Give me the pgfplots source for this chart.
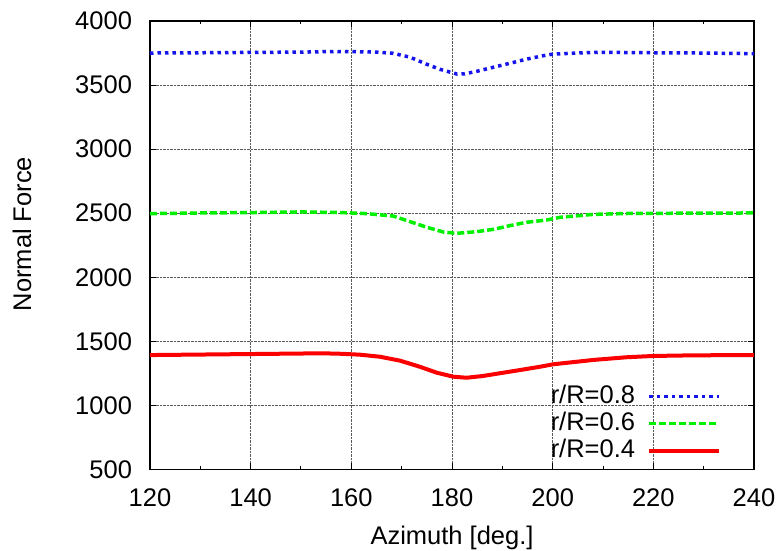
\documentclass[border=0pt]{standalone}
\usepackage{fontspec}
\setmainfont{Liberation Sans}
\usepackage{pgfplots}
\pgfplotsset{compat=1.18}
\definecolor{gblue}{RGB}{20,20,235}
\definecolor{ggreen}{RGB}{0,240,0}
\definecolor{gred}{RGB}{250,0,0}
\begin{document}
\begin{tikzpicture}
\useasboundingbox (-150pt,-81.5pt) rectangle (632pt,469.5pt);
\begin{axis}[
  at={(0,0)}, anchor=south west,
  scale only axis, width=604pt, height=448.5pt,
  xmin=120, xmax=240, ymin=500, ymax=4000,
  xtick={120,140,...,240}, ytick={500,1000,...,4000},
  minor x tick num=1,
  tick align=inside, major tick length=6pt, minor tick length=3pt,
  xmajorgrids, ymajorgrids,
  major grid style={densely dotted, gray!70!black, line width=0.8pt},
  axis line style={line width=1.2pt},
  every tick/.style={black, line width=1pt},
  /pgf/number format/assume math mode=true,
  /pgf/number format/1000 sep={},
  tick label style={font=\fontsize{25.5}{30}\selectfont},
  yticklabel style={xshift=-14.5pt},
  xticklabel style={yshift=-16pt},
  label style={font=\fontsize{25.5}{30}\selectfont},
  xlabel={Azimuth [deg.]},
  xlabel style={yshift=-12pt},
  ylabel={Normal Force},
  ylabel style={at={(ticklabel cs:0.525)}, yshift=37pt},
  legend plot pos=right,
  legend cell align=right,
  legend style={draw=none, fill=none, font=\fontsize{25.5}{30}\selectfont,
    at={(axis cs:233.5,1160)}, anchor=north east,
    row sep=4pt, column sep=12pt, inner sep=0pt,
    /tikz/every node/.append style={inner sep=0pt, text height=18pt, text depth=5pt}},
  legend image code/.code={\draw[#1] (0pt,0pt) -- (70pt,0pt);},
]
\addplot[gblue, line width=3.5pt, dash pattern=on 3.5pt off 4pt] coordinates {
(120,3750) (130,3752) (140,3755) (150,3757) (157,3762) (161.7,3760) (165,3757)
(168.3,3748) (171.7,3717) (175,3662) (177.6,3623) (181,3586) (182.5,3587)
(185,3608) (188.2,3639) (191.5,3670) (194.9,3703) (198.1,3729) (200.1,3742)
(205,3750) (209.4,3756) (220,3752) (230,3750) (240,3745)};
\addlegendentry{r/R=0.8}
\addplot[ggreen, line width=3.5pt, dash pattern=on 7pt off 3pt] coordinates {
(120,2497) (130,2502) (140,2505) (150,2510) (158,2505) (163,2497) (168.3,2478)
(171.7,2434) (175,2390) (178.3,2353) (180.9,2343) (184.9,2356) (188.2,2374)
(191.5,2403) (194.8,2429) (198.8,2447) (201.5,2468) (208.1,2491) (215,2498)
(225,2500) (240,2502)};
\addlegendentry{r/R=0.6}
\addplot[gred, line width=4pt] coordinates {
(120,1393) (130,1397) (140,1401) (150,1405) (154,1407) (158,1403) (161.7,1396)
(165.7,1380) (169.7,1349) (173.6,1302) (177,1255) (180.3,1224) (182.9,1216)
(186.2,1230) (189.5,1251) (193.5,1276) (197.5,1302) (200.1,1321) (204.8,1341)
(208.1,1355) (214.7,1376) (220,1386) (228,1391) (240,1393)};
\addlegendentry{r/R=0.4}
\end{axis}
\end{tikzpicture}
\end{document}
